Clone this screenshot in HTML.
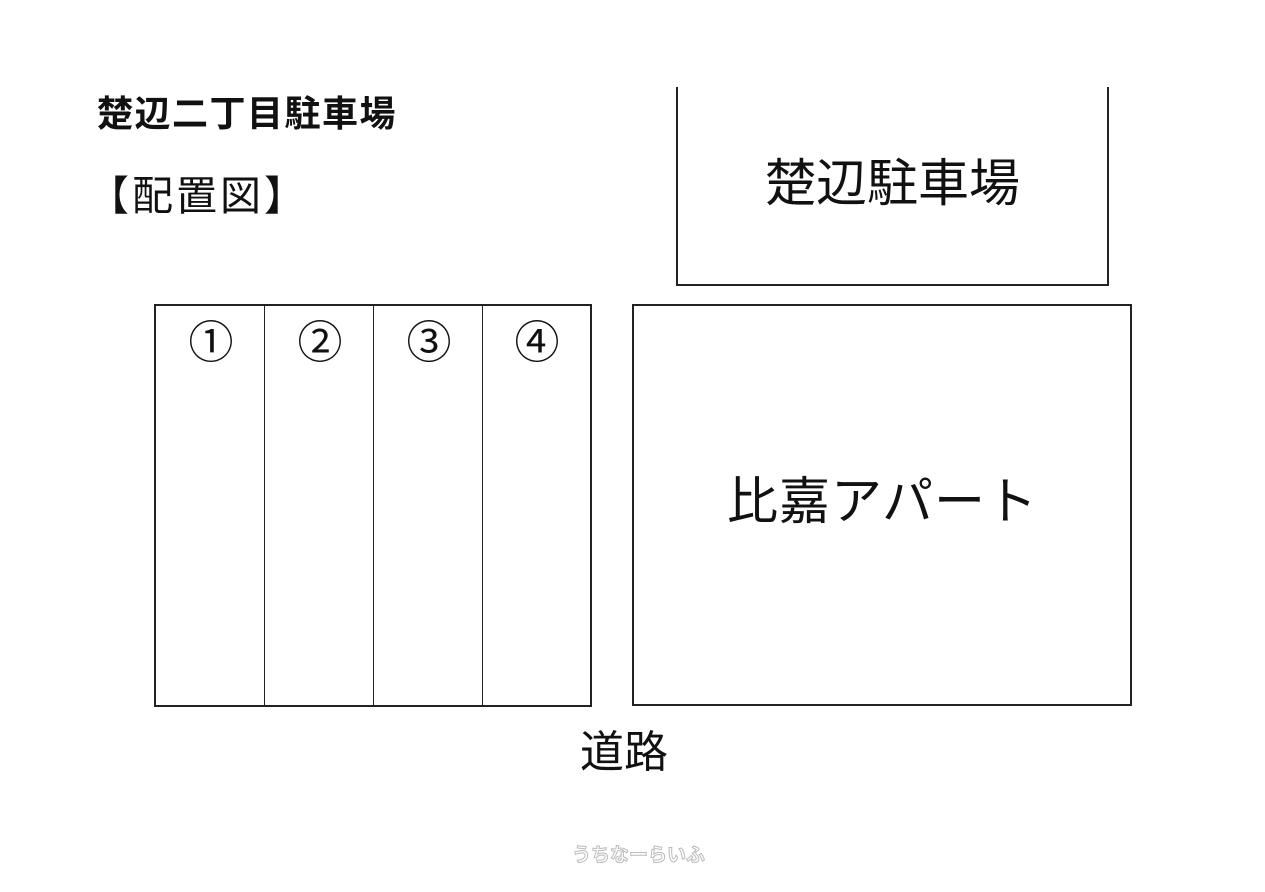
<!DOCTYPE html>
<html><head><meta charset="utf-8"><style>
body{margin:0;width:1265px;height:892px;background:#fff;position:relative;overflow:hidden;font-family:"Liberation Sans","Noto Sans CJK JP",sans-serif;color:#111}
.a{position:absolute;white-space:nowrap;line-height:1}
.l{position:absolute;background:#222}
</style></head><body>
<div class="a" style="left:97px;top:96px;font-size:36px;font-weight:bold;letter-spacing:1.5px">楚辺二丁目駐車場</div>
<div class="a" style="left:88px;top:176px;font-size:41px;letter-spacing:3px">【配置図】</div>
<div class="l" style="left:676px;top:87px;width:2px;height:199px"></div>
<div class="l" style="left:1107px;top:87px;width:2px;height:199px"></div>
<div class="l" style="left:676px;top:284px;width:433px;height:2px"></div>
<div class="a" style="left:765px;top:158px;font-size:51px">楚辺駐車場</div>
<div style="position:absolute;left:154px;top:304px;width:434px;height:399px;border:2px solid #222"></div>
<div class="l" style="left:264px;top:305px;width:1px;height:400px"></div>
<div class="l" style="left:373px;top:305px;width:1px;height:400px"></div>
<div class="l" style="left:482px;top:305px;width:1px;height:400px"></div>
<div class="a" style="left:185px;top:320px;font-size:45px;width:52px;text-align:center">①</div>
<div class="a" style="left:294px;top:320px;font-size:45px;width:52px;text-align:center">②</div>
<div class="a" style="left:403px;top:320px;font-size:45px;width:52px;text-align:center">③</div>
<div class="a" style="left:511px;top:320px;font-size:45px;width:52px;text-align:center">④</div>
<div style="position:absolute;left:632px;top:304px;width:496px;height:398px;border:2px solid #222"></div>
<div class="a" style="left:727px;top:476px;font-size:51px;letter-spacing:1px">比嘉アパート</div>
<div class="a" style="left:580px;top:731px;font-size:44px">道路</div>
<div class="a" style="left:572px;top:846px;font-size:19px;font-weight:bold;color:#fff;-webkit-text-stroke:1px #bbb">うちなーらいふ</div>
</body></html>
